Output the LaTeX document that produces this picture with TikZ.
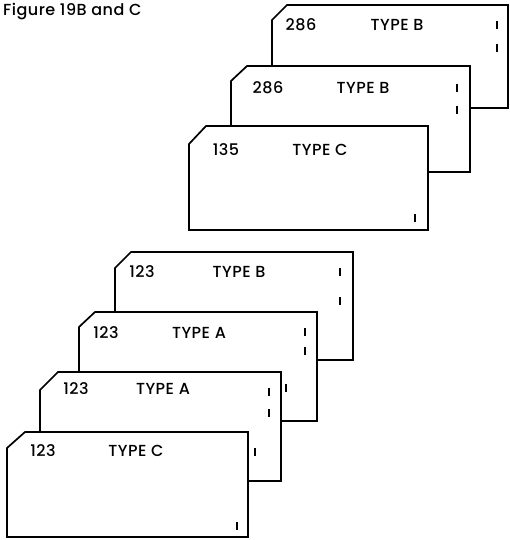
\documentclass[tikz,border=0pt]{standalone}
\usepackage{fontspec}
\setmainfont{Poppins}[UprightFont=* Medium, LetterSpace=3]

\begin{document}
\begin{tikzpicture}[
    x=1pt, y=-1pt,
    card/.style={draw=black, fill=white, line width=1.7pt, line join=miter},
    num/.style={inner sep=0pt, font=\fontsize{16}{18}\selectfont},
    kind/.style={inner sep=0pt, font=\fontsize{16}{18}\selectfont},
    punch/.style={line width=1.6pt}
]
    \useasboundingbox (0,0) rectangle (509,540);
    \node[anchor=west, inner sep=0pt, font=\fontsize{16}{18}\selectfont] (title) at (3,12) {Figure 19B and C};

    % upper deck, back to front
    \filldraw[card] (272,20) -- (287,5) -- (508,5) -- (508,108) -- (272,108) -- cycle;
    \node[num]  (n1) at (301,25) {286};
    \node[kind] (t1) at (397,25) {TYPE B};
    \draw[punch] (497,21) -- (497,29);
    \draw[punch] (497,44) -- (497,52);

    \filldraw[card] (231,81) -- (247,66) -- (470,66) -- (470,172) -- (231,172) -- cycle;
    \node[num]  (n2) at (268,88) {286};
    \node[kind] (t2) at (363,88) {TYPE B};
    \draw[punch] (457,84) -- (457,92);
    \draw[punch] (457,106) -- (457,114);

    \filldraw[card] (189,144) -- (206,126) -- (428,126) -- (428,230) -- (189,230) -- cycle;
    \node[num]  (n3) at (226,150) {135};
    \node[kind] (t3) at (320,150) {TYPE C};
    \draw[punch] (415,214) -- (415,222);

    % lower deck, back to front
    \filldraw[card] (115,268) -- (131,252) -- (353,252) -- (353,360) -- (115,360) -- cycle;
    \node[num]  (n4) at (142,272) {123};
    \node[kind] (t4) at (239,272) {TYPE B};
    \draw[punch] (340,268) -- (340,276);
    \draw[punch] (340,297) -- (340,305);

    \filldraw[card] (79,327) -- (95,312) -- (317,312) -- (317,421) -- (79,421) -- cycle;
    \node[num]  (n5) at (106,333) {123};
    \node[kind] (t5) at (199,333) {TYPE A};
    \draw[punch] (305,328) -- (305,336);
    \draw[punch] (305,347) -- (305,355);
    \draw[punch] (286,384) -- (286,392);

    \filldraw[card] (40,390) -- (58,372) -- (281,372) -- (281,481) -- (40,481) -- cycle;
    \node[num]  (n6) at (76,389) {123};
    \node[kind] (t6) at (163,389) {TYPE A};
    \draw[punch] (269,388) -- (269,396);
    \draw[punch] (269,409) -- (269,417);
    \draw[punch] (255,448) -- (255,456);

    \filldraw[card] (7,448) -- (25,432) -- (248,432) -- (248,537) -- (7,537) -- cycle;
    \node[num]  (n7) at (43,451) {123};
    \node[kind] (t7) at (136,451) {TYPE C};
    \draw[punch] (237,522) -- (237,530);
\end{tikzpicture}
\end{document}
